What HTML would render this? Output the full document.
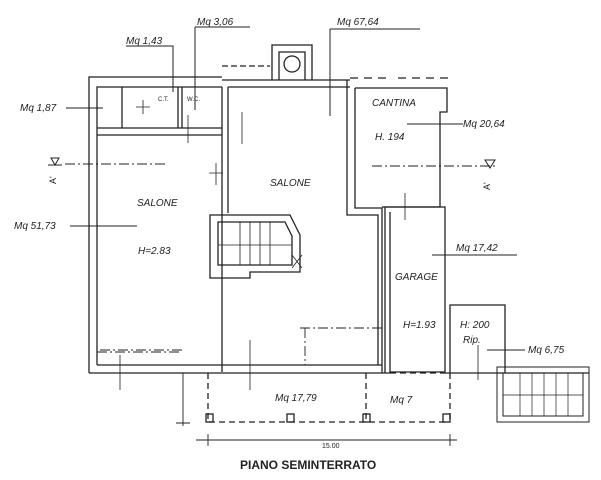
<!DOCTYPE html>
<html><head><meta charset="utf-8"><style>
html,body{margin:0;padding:0;background:#fff;width:601px;height:480px;overflow:hidden}
svg{display:block}
text{font-family:"Liberation Sans",sans-serif;fill:#222}
.h{font-size:10px;font-style:italic}
</style></head><body>
<svg width="601" height="480" viewBox="0 0 601 480" xmlns="http://www.w3.org/2000/svg">
<g fill="none" stroke="#222" stroke-width="1.3">
<!-- main outer walls -->
<path d="M89,373 V77 H222 M97,365 V87 H222"/>
<path d="M222,80 H350 M228,87 H350"/>
<path d="M89,373 H390 M97,365 H382"/>
<!-- tower -->
<path d="M272,80 V45 H312 V80 M279,80 V52 H305 V80"/>
<circle cx="292" cy="64" r="8"/>
<!-- dashed top line -->
<path d="M222,66 H270" stroke-dasharray="6,3"/>
<path d="M350,78 H390 M398,78 H450" stroke-dasharray="8,6"/>
<!-- center/right wall -->
<path d="M347,80 V215 H378 V365 M355,88 V208 H382 V373"/>
<path d="M222,87 V372 M228,87 V213"/>
<!-- cantina -->
<path d="M355,88 H447 V112 H440 V207 H382"/>
<!-- garage -->
<path d="M385,207 V373 M390,212 V373 M385,207 H445 V372 M445,372 H390"/>
<!-- small rooms -->
<path d="M97,128 H222 M97,135 H222 M122,87 V128 M178,87 V128 M182,87 V128"/>
<!-- center stair -->
<path d="M210,215 H290 L300,235 V272 H250 V278 H210 Z M218,222 H285 L292,236 V265 H218 Z"/>
<path d="M240,222 V265 M250,222 V265 M260,222 V265 M270,222 V265 M218,245 H292" stroke-width="0.8"/>
<path d="M292,255 L302,268 M292,268 L302,255" stroke-width="0.8"/>
<!-- rip room -->
<path d="M450,373 V305 H505 V373 M445,373 H589"/>
<!-- outside stair -->
<path d="M497,367 H589 V422 H497 Z M503,373 H583 V416 H503 Z" stroke-width="1"/>
<path d="M520,373 V416 M532,373 V416 M544,373 V416 M556,373 V416 M568,373 V416 M503,395 H583" stroke-width="0.7"/>
<!-- porch -->
<path d="M208,373 V422 H450 M450,373 V422 M366,373 V422" stroke-dasharray="6,4"/>
<path d="M390,373 H450" stroke-dasharray="6,4"/>
<rect x="206" y="414" width="7" height="8"/><rect x="287" y="414" width="7" height="8"/><rect x="363" y="414" width="7" height="8"/><rect x="443" y="414" width="7" height="8"/>
<!-- dimensions -->
<path d="M196,440 H457 M208,434 V446 M450,434 V446" stroke-width="0.9"/>
<path d="M183,373 V426 M176,423 H190" stroke-width="0.9"/>
<!-- dash-dot axes -->
<path d="M65,164 H165 M372,166 H495 M100,350 H182 M300,328 H385 M97,352 H180 M305,328 V365" stroke-width="0.9" stroke-dasharray="10,3,2,3"/>
<!-- leader lines -->
<path d="M66,108 H103 M126,46 H173 V92 M195,27 H250 M195,27 V110 M330,29 H420 M330,29 V116 M407,124 H463 M70,226 H137 M432,255 H517 M487,350 H525" stroke-width="1"/>
<!-- cross marks (doors) -->
<path d="M143,100 V114 M136,107 H150 M188,115 V143 M242,112 V144 M216,163 V185 M209,173 H223 M120,355 V390 M250,340 V390 M355,100 V110 M405,193 V220 M478,345 V380" stroke-width="0.8"/>
<path d="M48,165 H62 M55,165 L51,158 L59,158 Z M490,168 L495,160 L485,160 Z" stroke-width="1"/>
</g>
<text x="20" y="111" class="h">Mq 1,87</text>
<text x="126" y="44" class="h">Mq 1,43</text>
<text x="197" y="25" class="h">Mq 3,06</text>
<text x="337" y="25" class="h">Mq 67,64</text>
<text x="158" y="101" font-size="6">C.T.</text>
<text x="187" y="101" font-size="6">W.C.</text>
<text x="372" y="106" class="h" font-size="9">CANTINA</text>
<text x="375" y="140" class="h" font-size="9">H. 194</text>
<text x="463" y="127" class="h">Mq 20,64</text>
<text x="270" y="186" class="h" font-size="9">SALONE</text>
<text x="137" y="206" class="h" font-size="9">SALONE</text>
<text x="138" y="254" class="h" font-size="9">H=2.83</text>
<text x="14" y="229" class="h">Mq 51,73</text>
<text x="456" y="251" class="h">Mq 17,42</text>
<text x="395" y="280" class="h" font-size="8">GARAGE</text>
<text x="403" y="328" class="h" font-size="8">H=1.93</text>
<text x="460" y="328" class="h" font-size="8">H: 200</text>
<text x="463" y="343" class="h" font-size="8">Rip.</text>
<text x="528" y="353" class="h">Mq 6,75</text>
<text x="275" y="401" class="h" font-size="9">Mq 17,79</text>
<text x="390" y="403" class="h" font-size="9">Mq 7</text>
<text x="322" y="448" font-size="7">15.00</text>
<text x="52" y="180" font-size="9" transform="rotate(-90 56 180)">A'</text>
<text x="486" y="186" font-size="9" transform="rotate(-90 490 186)">A'</text>
<text x="240" y="469" font-size="12" font-weight="bold">PIANO SEMINTERRATO</text>
</svg>
</body></html>
